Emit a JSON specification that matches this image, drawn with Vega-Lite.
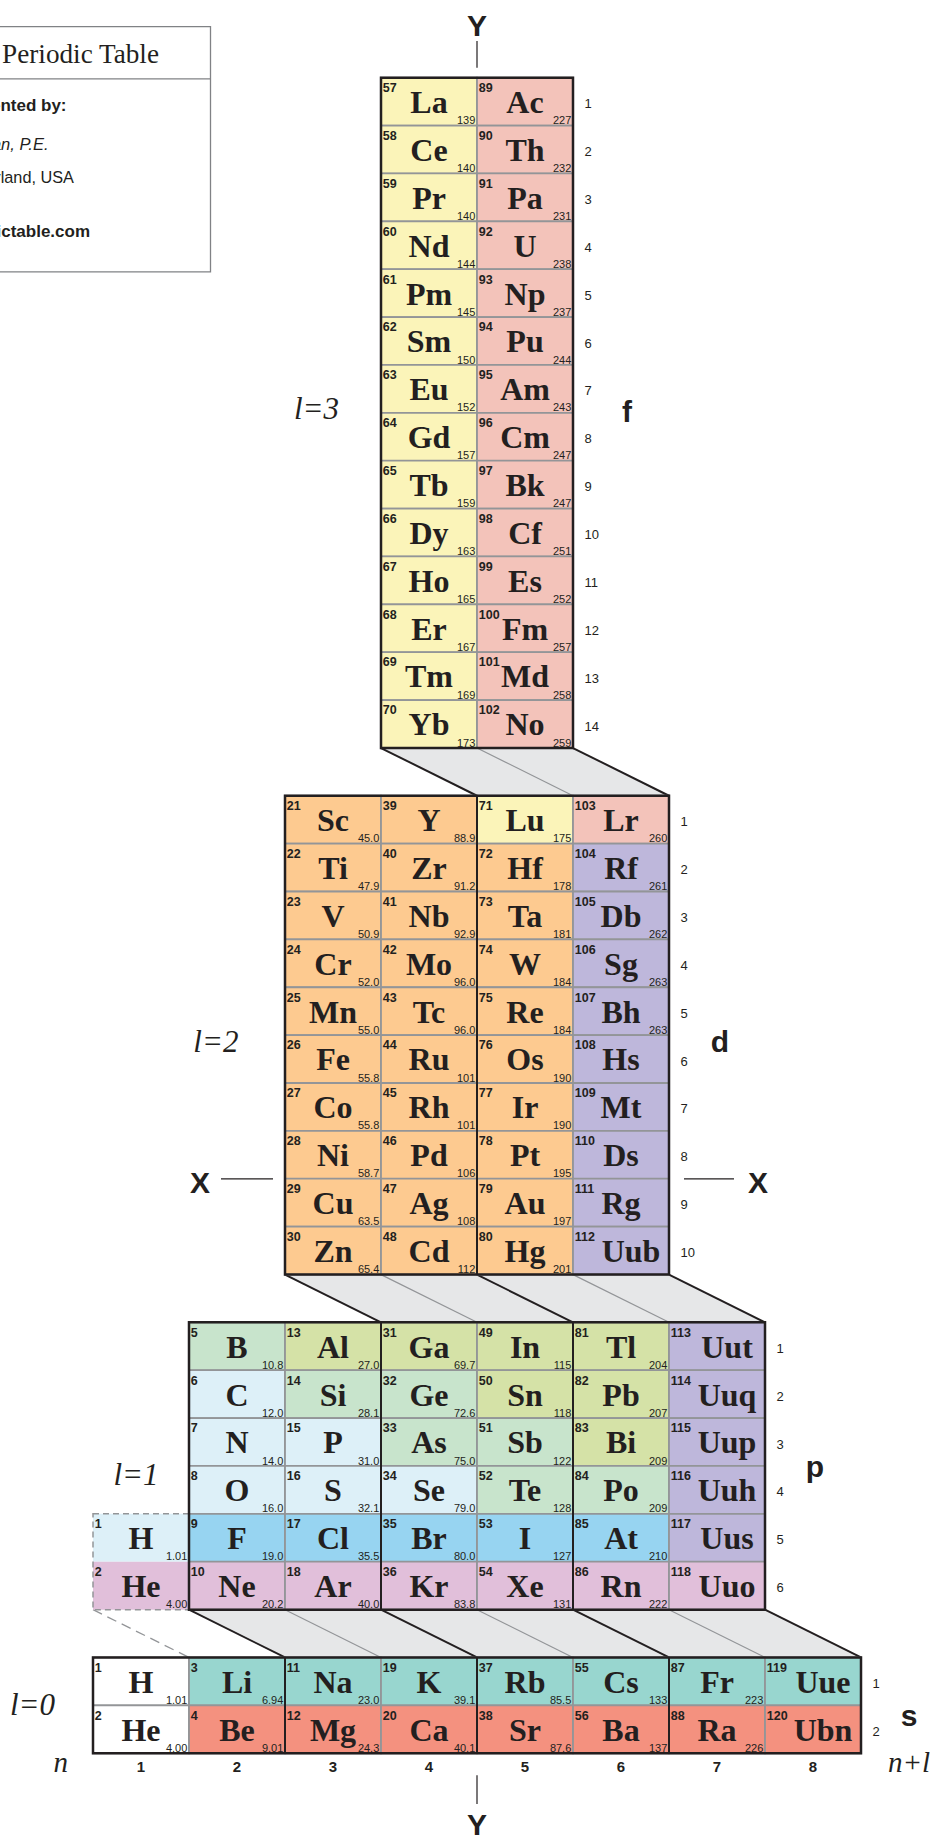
{
"$schema": "https://vega.github.io/schema/vega-lite/v6.json",
"width": 935, "height": 1841,
"autosize": {"type": "fit", "contains": "padding"},
"padding": 0,
"background": "white",
"config": {"view": {"stroke": null}},
"datasets": {
"cells": [
{"n":57,"s":"La","m":"139","x":4,"y":0,"k":"lan"},
{"n":58,"s":"Ce","m":"140","x":4,"y":1,"k":"lan"},
{"n":59,"s":"Pr","m":"140","x":4,"y":2,"k":"lan"},
{"n":60,"s":"Nd","m":"144","x":4,"y":3,"k":"lan"},
{"n":61,"s":"Pm","m":"145","x":4,"y":4,"k":"lan"},
{"n":62,"s":"Sm","m":"150","x":4,"y":5,"k":"lan"},
{"n":63,"s":"Eu","m":"152","x":4,"y":6,"k":"lan"},
{"n":64,"s":"Gd","m":"157","x":4,"y":7,"k":"lan"},
{"n":65,"s":"Tb","m":"159","x":4,"y":8,"k":"lan"},
{"n":66,"s":"Dy","m":"163","x":4,"y":9,"k":"lan"},
{"n":67,"s":"Ho","m":"165","x":4,"y":10,"k":"lan"},
{"n":68,"s":"Er","m":"167","x":4,"y":11,"k":"lan"},
{"n":69,"s":"Tm","m":"169","x":4,"y":12,"k":"lan"},
{"n":70,"s":"Yb","m":"173","x":4,"y":13,"k":"lan"},
{"n":89,"s":"Ac","m":"227","x":5,"y":0,"k":"act"},
{"n":90,"s":"Th","m":"232","x":5,"y":1,"k":"act"},
{"n":91,"s":"Pa","m":"231","x":5,"y":2,"k":"act"},
{"n":92,"s":"U","m":"238","x":5,"y":3,"k":"act"},
{"n":93,"s":"Np","m":"237","x":5,"y":4,"k":"act"},
{"n":94,"s":"Pu","m":"244","x":5,"y":5,"k":"act"},
{"n":95,"s":"Am","m":"243","x":5,"y":6,"k":"act"},
{"n":96,"s":"Cm","m":"247","x":5,"y":7,"k":"act"},
{"n":97,"s":"Bk","m":"247","x":5,"y":8,"k":"act"},
{"n":98,"s":"Cf","m":"251","x":5,"y":9,"k":"act"},
{"n":99,"s":"Es","m":"252","x":5,"y":10,"k":"act"},
{"n":100,"s":"Fm","m":"257","x":5,"y":11,"k":"act"},
{"n":101,"s":"Md","m":"258","x":5,"y":12,"k":"act"},
{"n":102,"s":"No","m":"259","x":5,"y":13,"k":"act"},
{"n":21,"s":"Sc","m":"45.0","x":3,"y":15,"k":"tr"},
{"n":22,"s":"Ti","m":"47.9","x":3,"y":16,"k":"tr"},
{"n":23,"s":"V","m":"50.9","x":3,"y":17,"k":"tr"},
{"n":24,"s":"Cr","m":"52.0","x":3,"y":18,"k":"tr"},
{"n":25,"s":"Mn","m":"55.0","x":3,"y":19,"k":"tr"},
{"n":26,"s":"Fe","m":"55.8","x":3,"y":20,"k":"tr"},
{"n":27,"s":"Co","m":"55.8","x":3,"y":21,"k":"tr"},
{"n":28,"s":"Ni","m":"58.7","x":3,"y":22,"k":"tr"},
{"n":29,"s":"Cu","m":"63.5","x":3,"y":23,"k":"tr"},
{"n":30,"s":"Zn","m":"65.4","x":3,"y":24,"k":"tr"},
{"n":39,"s":"Y","m":"88.9","x":4,"y":15,"k":"tr"},
{"n":40,"s":"Zr","m":"91.2","x":4,"y":16,"k":"tr"},
{"n":41,"s":"Nb","m":"92.9","x":4,"y":17,"k":"tr"},
{"n":42,"s":"Mo","m":"96.0","x":4,"y":18,"k":"tr"},
{"n":43,"s":"Tc","m":"96.0","x":4,"y":19,"k":"tr"},
{"n":44,"s":"Ru","m":"101","x":4,"y":20,"k":"tr"},
{"n":45,"s":"Rh","m":"101","x":4,"y":21,"k":"tr"},
{"n":46,"s":"Pd","m":"106","x":4,"y":22,"k":"tr"},
{"n":47,"s":"Ag","m":"108","x":4,"y":23,"k":"tr"},
{"n":48,"s":"Cd","m":"112","x":4,"y":24,"k":"tr"},
{"n":71,"s":"Lu","m":"175","x":5,"y":15,"k":"lan"},
{"n":72,"s":"Hf","m":"178","x":5,"y":16,"k":"tr"},
{"n":73,"s":"Ta","m":"181","x":5,"y":17,"k":"tr"},
{"n":74,"s":"W","m":"184","x":5,"y":18,"k":"tr"},
{"n":75,"s":"Re","m":"184","x":5,"y":19,"k":"tr"},
{"n":76,"s":"Os","m":"190","x":5,"y":20,"k":"tr"},
{"n":77,"s":"Ir","m":"190","x":5,"y":21,"k":"tr"},
{"n":78,"s":"Pt","m":"195","x":5,"y":22,"k":"tr"},
{"n":79,"s":"Au","m":"197","x":5,"y":23,"k":"tr"},
{"n":80,"s":"Hg","m":"201","x":5,"y":24,"k":"tr"},
{"n":103,"s":"Lr","m":"260","x":6,"y":15,"k":"act"},
{"n":104,"s":"Rf","m":"261","x":6,"y":16,"k":"sup"},
{"n":105,"s":"Db","m":"262","x":6,"y":17,"k":"sup"},
{"n":106,"s":"Sg","m":"263","x":6,"y":18,"k":"sup"},
{"n":107,"s":"Bh","m":"263","x":6,"y":19,"k":"sup"},
{"n":108,"s":"Hs","m":"","x":6,"y":20,"k":"sup"},
{"n":109,"s":"Mt","m":"","x":6,"y":21,"k":"sup"},
{"n":110,"s":"Ds","m":"","x":6,"y":22,"k":"sup"},
{"n":111,"s":"Rg","m":"","x":6,"y":23,"k":"sup"},
{"n":112,"s":"Uub","m":"","x":6,"y":24,"k":"sup"},
{"n":5,"s":"B","m":"10.8","x":2,"y":26,"k":"mtd"},
{"n":6,"s":"C","m":"12.0","x":2,"y":27,"k":"non"},
{"n":7,"s":"N","m":"14.0","x":2,"y":28,"k":"non"},
{"n":8,"s":"O","m":"16.0","x":2,"y":29,"k":"non"},
{"n":9,"s":"F","m":"19.0","x":2,"y":30,"k":"hal"},
{"n":10,"s":"Ne","m":"20.2","x":2,"y":31,"k":"nob"},
{"n":13,"s":"Al","m":"27.0","x":3,"y":26,"k":"met"},
{"n":14,"s":"Si","m":"28.1","x":3,"y":27,"k":"mtd"},
{"n":15,"s":"P","m":"31.0","x":3,"y":28,"k":"non"},
{"n":16,"s":"S","m":"32.1","x":3,"y":29,"k":"non"},
{"n":17,"s":"Cl","m":"35.5","x":3,"y":30,"k":"hal"},
{"n":18,"s":"Ar","m":"40.0","x":3,"y":31,"k":"nob"},
{"n":31,"s":"Ga","m":"69.7","x":4,"y":26,"k":"met"},
{"n":32,"s":"Ge","m":"72.6","x":4,"y":27,"k":"mtd"},
{"n":33,"s":"As","m":"75.0","x":4,"y":28,"k":"mtd"},
{"n":34,"s":"Se","m":"79.0","x":4,"y":29,"k":"non"},
{"n":35,"s":"Br","m":"80.0","x":4,"y":30,"k":"hal"},
{"n":36,"s":"Kr","m":"83.8","x":4,"y":31,"k":"nob"},
{"n":49,"s":"In","m":"115","x":5,"y":26,"k":"met"},
{"n":50,"s":"Sn","m":"118","x":5,"y":27,"k":"met"},
{"n":51,"s":"Sb","m":"122","x":5,"y":28,"k":"mtd"},
{"n":52,"s":"Te","m":"128","x":5,"y":29,"k":"mtd"},
{"n":53,"s":"I","m":"127","x":5,"y":30,"k":"hal"},
{"n":54,"s":"Xe","m":"131","x":5,"y":31,"k":"nob"},
{"n":81,"s":"Tl","m":"204","x":6,"y":26,"k":"met"},
{"n":82,"s":"Pb","m":"207","x":6,"y":27,"k":"met"},
{"n":83,"s":"Bi","m":"209","x":6,"y":28,"k":"met"},
{"n":84,"s":"Po","m":"209","x":6,"y":29,"k":"mtd"},
{"n":85,"s":"At","m":"210","x":6,"y":30,"k":"hal"},
{"n":86,"s":"Rn","m":"222","x":6,"y":31,"k":"nob"},
{"n":113,"s":"Uut","m":"","x":7,"y":26,"k":"sup"},
{"n":114,"s":"Uuq","m":"","x":7,"y":27,"k":"sup"},
{"n":115,"s":"Uup","m":"","x":7,"y":28,"k":"sup"},
{"n":116,"s":"Uuh","m":"","x":7,"y":29,"k":"sup"},
{"n":117,"s":"Uus","m":"","x":7,"y":30,"k":"sup"},
{"n":118,"s":"Uuo","m":"","x":7,"y":31,"k":"nob"},
{"n":1,"s":"H","m":"1.01","x":1,"y":30,"k":"non","g":1},
{"n":2,"s":"He","m":"4.00","x":1,"y":31,"k":"nob","g":1},
{"n":1,"s":"H","m":"1.01","x":1,"y":33,"k":"none"},
{"n":2,"s":"He","m":"4.00","x":1,"y":34,"k":"none"},
{"n":3,"s":"Li","m":"6.94","x":2,"y":33,"k":"alk"},
{"n":4,"s":"Be","m":"9.01","x":2,"y":34,"k":"ae"},
{"n":11,"s":"Na","m":"23.0","x":3,"y":33,"k":"alk"},
{"n":12,"s":"Mg","m":"24.3","x":3,"y":34,"k":"ae"},
{"n":19,"s":"K","m":"39.1","x":4,"y":33,"k":"alk"},
{"n":20,"s":"Ca","m":"40.1","x":4,"y":34,"k":"ae"},
{"n":37,"s":"Rb","m":"85.5","x":5,"y":33,"k":"alk"},
{"n":38,"s":"Sr","m":"87.6","x":5,"y":34,"k":"ae"},
{"n":55,"s":"Cs","m":"133","x":6,"y":33,"k":"alk"},
{"n":56,"s":"Ba","m":"137","x":6,"y":34,"k":"ae"},
{"n":87,"s":"Fr","m":"223","x":7,"y":33,"k":"alk"},
{"n":88,"s":"Ra","m":"226","x":7,"y":34,"k":"ae"},
{"n":119,"s":"Uue","m":"","x":8,"y":33,"k":"alk"},
{"n":120,"s":"Ubn","m":"","x":8,"y":34,"k":"ae"}
],
"blocks": [
{"x":4,"x2":5,"y":0,"y2":13},
{"x":3,"x2":6,"y":15,"y2":24},
{"x":2,"x2":7,"y":26,"y2":31},
{"x":1,"x2":8,"y":33,"y2":34}
],
"inner": [
{"x":5,"y":15,"y2":24},
{"x":4,"y":26,"y2":31},
{"x":6,"y":26,"y2":31},
{"x":3,"y":33,"y2":34},
{"x":5,"y":33,"y2":34},
{"x":7,"y":33,"y2":34}
],
"bandfill": [
{"b":"fd","y":13.5,"x":3.5,"x2":5.5},
{"b":"fd","y":14.5,"x":4.5,"x2":6.5},
{"b":"dp","y":24.5,"x":2.5,"x2":6.5},
{"b":"dp","y":25.5,"x":3.5,"x2":7.5},
{"b":"ps","y":31.5,"x":1.5,"x2":7.5},
{"b":"ps","y":32.5,"x":2.5,"x2":8.5}
],
"bandline": [
{"x":4,"x2":5,"y":13,"y2":15,"d":1},
{"x":5,"x2":6,"y":13,"y2":15,"d":0},
{"x":6,"x2":7,"y":13,"y2":15,"d":1},
{"x":3,"x2":4,"y":24,"y2":26,"d":1},
{"x":4,"x2":5,"y":24,"y2":26,"d":0},
{"x":5,"x2":6,"y":24,"y2":26,"d":1},
{"x":6,"x2":7,"y":24,"y2":26,"d":0},
{"x":7,"x2":8,"y":24,"y2":26,"d":1},
{"x":2,"x2":3,"y":31,"y2":33,"d":1},
{"x":3,"x2":4,"y":31,"y2":33,"d":0},
{"x":4,"x2":5,"y":31,"y2":33,"d":1},
{"x":5,"x2":6,"y":31,"y2":33,"d":0},
{"x":6,"x2":7,"y":31,"y2":33,"d":1},
{"x":7,"x2":8,"y":31,"y2":33,"d":0},
{"x":8,"x2":9,"y":31,"y2":33,"d":1}
],
"rowlab": [
{"t":"1","x":5,"y":0},{"t":"2","x":5,"y":1},{"t":"3","x":5,"y":2},{"t":"4","x":5,"y":3},
{"t":"5","x":5,"y":4},{"t":"6","x":5,"y":5},{"t":"7","x":5,"y":6},{"t":"8","x":5,"y":7},
{"t":"9","x":5,"y":8},{"t":"10","x":5,"y":9},{"t":"11","x":5,"y":10},{"t":"12","x":5,"y":11},
{"t":"13","x":5,"y":12},{"t":"14","x":5,"y":13},
{"t":"1","x":6,"y":15},{"t":"2","x":6,"y":16},{"t":"3","x":6,"y":17},{"t":"4","x":6,"y":18},
{"t":"5","x":6,"y":19},{"t":"6","x":6,"y":20},{"t":"7","x":6,"y":21},{"t":"8","x":6,"y":22},
{"t":"9","x":6,"y":23},{"t":"10","x":6,"y":24},
{"t":"1","x":7,"y":26},{"t":"2","x":7,"y":27},{"t":"3","x":7,"y":28},{"t":"4","x":7,"y":29},
{"t":"5","x":7,"y":30},{"t":"6","x":7,"y":31},
{"t":"1","x":8,"y":33},{"t":"2","x":8,"y":34}
],
"collab": [
{"t":"1","x":1,"y":34},{"t":"2","x":2,"y":34},{"t":"3","x":3,"y":34},{"t":"4","x":4,"y":34},
{"t":"5","x":5,"y":34},{"t":"6","x":6,"y":34},{"t":"7","x":7,"y":34},{"t":"8","x":8,"y":34}
],
"ticks": [
{"x":4.5,"x2":4.5,"y":-1.271,"y2":-0.708},
{"x":4.5,"x2":4.5,"y":34.958,"y2":35.5625},
{"x":1.833,"x2":2.375,"y":22.5,"y2":22.5},
{"x":6.656,"x2":7.177,"y":22.5,"y2":22.5}
],
"ann": [
{"t":"Y","x":4.5,"y":-1.375,"st":"ax"},
{"t":"Y","x":4.5,"y":36.2,"st":"ax"},
{"t":"X","x":1.6146,"y":22.79,"st":"ax"},
{"t":"X","x":7.427,"y":22.79,"st":"ax"},
{"t":"f","x":6.0625,"y":6.6875,"st":"ax"},
{"t":"d","x":7.031,"y":19.85,"st":"ax"},
{"t":"p","x":8.02,"y":28.72,"st":"ax"},
{"t":"s","x":9.0,"y":33.94,"st":"ax"},
{"t":"l=3","x":2.828,"y":6.625,"st":"ell"},
{"t":"l=2","x":1.78,"y":19.85,"st":"ell"},
{"t":"l=1","x":0.948,"y":28.9,"st":"ell"},
{"t":"l=0","x":-0.13,"y":33.71,"st":"ell"},
{"t":"n","x":0.165,"y":34.896,"st":"nl"},
{"t":"n+l","x":9.0,"y":34.896,"st":"nl"}
],
"box": [{"x":-0.6,"x2":1.724,"y":-1.569,"y2":3.556}],
"boxline": [{"x":-0.6,"x2":1.724,"y":-0.479}],
"boxtext": [
{"t":"ADOMAH Periodic Table","x":1.1875,"y":-0.8188,"st":"title"},
{"t":"Presented by:","x":0.224,"y":0.2021,"st":"b"},
{"t":"Valery Tsimmerman, P.E.","x":0.0365,"y":1.0146,"st":"i"},
{"t":"Rockville, Maryland, USA","x":0.302,"y":1.7083,"st":"r"},
{"t":"www.perfectperiodictable.com","x":0.469,"y":2.8333,"st":"b"}
]
},
"encoding": {
"x": {"field":"x","type":"quantitative","scale":{"domain":[-0.46875,9.270833],"nice":false,"zero":false},"axis":null},
"y": {"field":"y","type":"quantitative","scale":{"domain":[-2.125,36.229167],"nice":false,"zero":false,"reverse":true},"axis":null}
},
"layer": [
{"data":{"name":"box"},"mark":{"type":"rect","fill":"white","stroke":"#808285","strokeWidth":1.3,"clip":true},
 "encoding":{"x2":{"field":"x2"},"y2":{"field":"y2"}}},
{"data":{"name":"boxline"},"mark":{"type":"rule","stroke":"#808285","strokeWidth":1.3,"clip":true},
 "encoding":{"x2":{"field":"x2"}}},
{"data":{"name":"boxtext"},"transform":[{"filter":"datum.st=='title'"}],
 "mark":{"type":"text","align":"right","baseline":"alphabetic","font":"Liberation Serif","fontSize":27.2,"fill":"#231f20","clip":true},
 "encoding":{"text":{"field":"t"}}},
{"data":{"name":"boxtext"},"transform":[{"filter":"datum.st=='b'"}],
 "mark":{"type":"text","align":"right","baseline":"alphabetic","font":"Liberation Sans","fontWeight":"bold","fontSize":17,"fill":"#231f20","clip":true},
 "encoding":{"text":{"field":"t"}}},
{"data":{"name":"boxtext"},"transform":[{"filter":"datum.st=='i'"}],
 "mark":{"type":"text","align":"right","baseline":"alphabetic","font":"Liberation Sans","fontStyle":"italic","fontSize":16.5,"fill":"#231f20","clip":true},
 "encoding":{"text":{"field":"t"}}},
{"data":{"name":"boxtext"},"transform":[{"filter":"datum.st=='r'"}],
 "mark":{"type":"text","align":"right","baseline":"alphabetic","font":"Liberation Sans","fontSize":16.3,"fill":"#231f20","clip":true},
 "encoding":{"text":{"field":"t"}}},
{"data":{"name":"bandfill"},"mark":{"type":"area","orient":"horizontal","fill":"#e6e7e8"},
 "encoding":{"x":{"field":"x","type":"quantitative","stack":null,"scale":{"domain":[-0.46875,9.270833],"nice":false,"zero":false},"axis":null},
  "x2":{"field":"x2"},"detail":{"field":"b"}}},
{"data":{"name":"bandline"},"transform":[{"filter":"datum.d==0"}],
 "mark":{"type":"rule","stroke":"#939598","strokeWidth":1.2,"xOffset":-48,"x2Offset":-48,"yOffset":24,"y2Offset":-24},
 "encoding":{"x2":{"field":"x2"},"y2":{"field":"y2"}}},
{"data":{"name":"bandline"},"transform":[{"filter":"datum.d==1"}],
 "mark":{"type":"rule","stroke":"#231f20","strokeWidth":2,"xOffset":-48,"x2Offset":-48,"yOffset":24,"y2Offset":-24},
 "encoding":{"x2":{"field":"x2"},"y2":{"field":"y2"}}},
{"data":{"values":[{"x":1,"x2":2,"y":31,"y2":33}]},
 "mark":{"type":"rule","stroke":"#939598","strokeWidth":1.3,"strokeDash":[10,6],"xOffset":-48,"x2Offset":-48,"yOffset":24,"y2Offset":-24},
 "encoding":{"x2":{"field":"x2"},"y2":{"field":"y2"}}},
{"data":{"name":"cells"},"transform":[{"filter":"!datum.g"}],
 "mark":{"type":"rect","stroke":"#939598","strokeWidth":1.8,"xOffset":-48,"x2Offset":48,"yOffset":-24,"y2Offset":24},
 "encoding":{"x2":{"field":"x"},"y2":{"field":"y"},
  "fill":{"field":"k","type":"nominal","legend":null,"scale":{"domain":["lan","act","tr","sup","met","mtd","non","hal","nob","alk","ae","none"],"range":["#fbf4b9","#f3c3ba","#fdca90","#beb7db","#d5e2a7","#c8e4cc","#ddf0f8","#97d4f1","#e1bfda","#98d6cf","#f4917f","#ffffff"]}}}},
{"data":{"name":"cells"},"transform":[{"filter":"datum.g==1"}],
 "mark":{"type":"rect","strokeWidth":0,"xOffset":-48,"x2Offset":48,"yOffset":-24,"y2Offset":24},
 "encoding":{"x2":{"field":"x"},"y2":{"field":"y"},
  "fill":{"field":"k","type":"nominal","legend":null,"scale":{"domain":["lan","act","tr","sup","met","mtd","non","hal","nob","alk","ae","none"],"range":["#fbf4b9","#f3c3ba","#fdca90","#beb7db","#d5e2a7","#c8e4cc","#ddf0f8","#97d4f1","#e1bfda","#98d6cf","#f4917f","#ffffff"]}}}},
{"data":{"values":[{"x":1,"y":30,"y2":31}]},
 "mark":{"type":"rect","fillOpacity":0,"stroke":"#939598","strokeWidth":1.5,"strokeDash":[6,4],"xOffset":-48,"x2Offset":48,"yOffset":-24,"y2Offset":24},
 "encoding":{"x2":{"field":"x"},"y2":{"field":"y2"}}},
{"data":{"name":"blocks"},
 "mark":{"type":"rect","fillOpacity":0,"stroke":"#231f20","strokeWidth":2.5,"xOffset":-48,"x2Offset":48,"yOffset":-24,"y2Offset":24},
 "encoding":{"x2":{"field":"x2"},"y2":{"field":"y2"}}},
{"data":{"name":"inner"},
 "mark":{"type":"rule","stroke":"#231f20","strokeWidth":2,"xOffset":-48,"yOffset":-24,"y2Offset":24},
 "encoding":{"y2":{"field":"y2"}}},
{"data":{"name":"cells"},
 "mark":{"type":"text","align":"left","baseline":"alphabetic","dx":-46.2,"dy":-9.7,"font":"Liberation Sans","fontWeight":"bold","fontSize":12.5,"fill":"#231f20"},
 "encoding":{"text":{"field":"n"}}},
{"data":{"name":"cells"},"transform":[{"filter":"length(datum.s)<3"}],
 "mark":{"type":"text","align":"center","baseline":"alphabetic","dy":11.3,"font":"Liberation Serif","fontWeight":"bold","fontSize":32,"fill":"#231f20"},
 "encoding":{"text":{"field":"s"}}},
{"data":{"name":"cells"},"transform":[{"filter":"length(datum.s)==3"}],
 "mark":{"type":"text","align":"center","baseline":"alphabetic","dx":10,"dy":11.3,"font":"Liberation Serif","fontWeight":"bold","fontSize":32,"fill":"#231f20"},
 "encoding":{"text":{"field":"s"}}},
{"data":{"name":"cells"},
 "mark":{"type":"text","align":"right","baseline":"alphabetic","dx":46.3,"dy":22.5,"font":"Liberation Sans","fontSize":11,"fill":"#231f20"},
 "encoding":{"text":{"field":"m"}}},
{"data":{"name":"rowlab"},
 "mark":{"type":"text","align":"left","baseline":"alphabetic","dx":59.5,"dy":6.5,"font":"Liberation Sans","fontSize":13,"fill":"#231f20"},
 "encoding":{"text":{"field":"t"}}},
{"data":{"name":"collab"},
 "mark":{"type":"text","align":"center","baseline":"alphabetic","dy":43,"font":"Liberation Sans","fontWeight":"bold","fontSize":15,"fill":"#231f20"},
 "encoding":{"text":{"field":"t"}}},
{"data":{"name":"ticks"},
 "mark":{"type":"rule","stroke":"#231f20","strokeWidth":1.2},
 "encoding":{"x2":{"field":"x2"},"y2":{"field":"y2"}}},
{"data":{"name":"ann"},"transform":[{"filter":"datum.st=='ax'"}],
 "mark":{"type":"text","align":"center","baseline":"alphabetic","font":"Liberation Sans","fontWeight":"bold","fontSize":30,"fill":"#231f20"},
 "encoding":{"text":{"field":"t"}}},
{"data":{"name":"ann"},"transform":[{"filter":"datum.st=='ell'"}],
 "mark":{"type":"text","align":"center","baseline":"alphabetic","font":"Liberation Serif","fontStyle":"italic","fontSize":31,"fill":"#231f20"},
 "encoding":{"text":{"field":"t"}}},
{"data":{"name":"ann"},"transform":[{"filter":"datum.st=='nl'"}],
 "mark":{"type":"text","align":"center","baseline":"alphabetic","font":"Liberation Serif","fontStyle":"italic","fontSize":29,"fill":"#231f20"},
 "encoding":{"text":{"field":"t"}}}
]
}
